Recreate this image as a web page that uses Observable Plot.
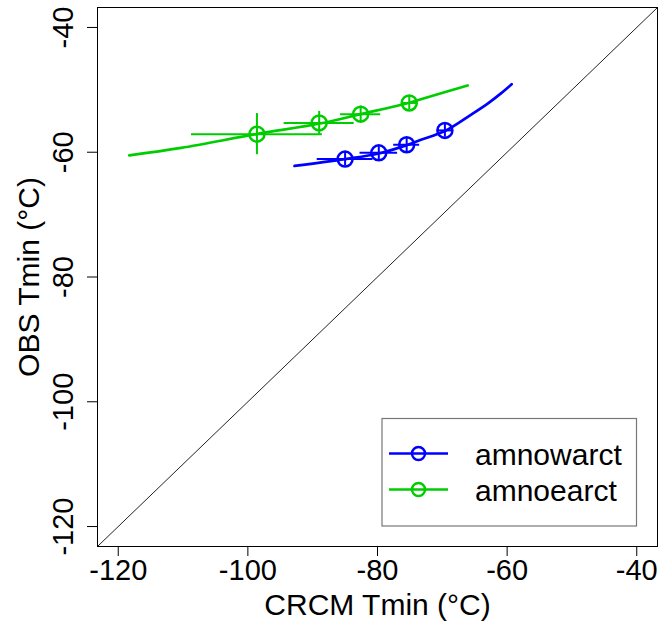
<!DOCTYPE html>
<html>
<head>
<meta charset="utf-8">
<script src="https://cdn.jsdelivr.net/npm/d3@7"></script>
<script src="https://cdn.jsdelivr.net/npm/@observablehq/plot@0.6"></script>
<style>
  html, body { margin: 0; padding: 0; background: white; }
  #wrap { position: relative; width: 658px; height: 624px; }
  #legend { position: absolute; left: 0; top: 0; pointer-events: none; }
  text { font-family: "Liberation Sans", Arial, Helvetica, sans-serif; }
</style>
</head>
<body>
<div id="wrap"></div>
<script>
// ---- axis limits and ticks ----
const axisLimits = [-120, -40];
const xTicks = [-120, -100, -80, -60, -40];
const yTicks = [-120, -100, -80, -60, -40];
const xTitle = "CRCM Tmin (°C)";
const yTitle = "OBS Tmin (°C)";

// ---- series names / colours ----
const seriesNames = ["amnowarct", "amnoearct"];
const seriesColors = ["#0000FF", "#00CD00"];

// ---- amnowarct (blue) fitted curve ----
const blueCurveX = [-92.8, -85.0, -79.8, -75.6, -73.3, -69.6, -65.6, -63.0, -61.0, -59.3];
const blueCurveY = [-62.2, -61.1, -60.2, -58.9, -58.0, -56.6, -54.0, -52.2, -50.6, -49.1];
// ---- amnowarct points and error bars ----
const bluePtX = [-85.0, -79.8, -75.5, -69.6];
const bluePtY = [-61.1, -60.1, -58.8, -56.5];
const blueErrX = [4.3, 2.9, 2.0, 1.2];
const blueErrY = [1.1, 1.1, 1.1, 1.1];

// ---- amnoearct (green) fitted curve ----
const greenCurveX = [-118.3, -110.3, -98.7, -88.9, -82.6, -75.2, -73.3, -66.1];
const greenCurveY = [-60.5, -59.3, -57.1, -55.4, -53.9, -52.1, -51.5, -49.3];
// ---- amnoearct points and error bars ----
const greenPtX = [-98.6, -89.0, -82.6, -75.1];
const greenPtY = [-57.1, -55.3, -53.9, -52.1];
const greenErrX = [10.1, 5.4, 3.1, 1.2];
const greenErrY = [3.3, 1.85, 1.3, 1.1];

// ---- build tables ----
const span = axisLimits[1] - axisLimits[0];
const domain = [axisLimits[0] - 0.04 * span, axisLimits[1] + 0.04 * span]; // R-style 4% expansion
const curve = (xs, ys) => xs.map((x, i) => ({x, y: ys[i]}));
const pts = (xs, ys, ex, ey) => xs.map((x, i) => ({x, y: ys[i], ex: ex[i], ey: ey[i]}));
const blueCurve = curve(blueCurveX, blueCurveY);
const greenCurve = curve(greenCurveX, greenCurveY);
const bluePts = pts(bluePtX, bluePtY, blueErrX, blueErrY);
const greenPts = pts(greenPtX, greenPtY, greenErrX, greenErrY);

function seriesMarks(curveData, ptData, color) {
  return [
    Plot.line(curveData, {x: "x", y: "y", stroke: color, strokeWidth: 2.7, curve: "catmull-rom"}),
    Plot.ruleY(ptData, {y: "y", x1: d => d.x - d.ex, x2: d => d.x + d.ex, stroke: color, strokeWidth: 2}),
    Plot.ruleX(ptData, {x: "x", y1: d => d.y - d.ey, y2: d => d.y + d.ey, stroke: color, strokeWidth: 2}),
    Plot.dot(ptData, {x: "x", y: "y", r: 7.5, stroke: color, strokeWidth: 2.5, fill: "none"})
  ];
}

const chart = Plot.plot({
  width: 658,
  height: 624,
  marginLeft: 97,
  marginRight: 1,
  marginTop: 7,
  marginBottom: 78,
  style: {fontFamily: "'Liberation Sans', Arial, Helvetica, sans-serif", fontSize: "29px", background: "white", color: "black"},
  x: {domain},
  y: {domain},
  marks: [
    Plot.line(domain, {x: d => d, y: d => d, stroke: "#222", strokeWidth: 1}),
    Plot.frame({stroke: "black", strokeWidth: 1}),
    Plot.axisX(xTicks, {tickSize: 10, tickPadding: 3, fontSize: 29, tickFormat: d => String(d), label: null}),
    Plot.axisY(yTicks, {tickSize: 10, tickFormat: () => "", label: null}),
    Plot.text(yTicks, {y: d => d, text: d => String(d), frameAnchor: "left", textAnchor: "middle", dx: -25, rotate: -90, lineAnchor: "bottom", fontSize: 29}),
    Plot.text([xTitle], {text: d => d, frameAnchor: "bottom", textAnchor: "middle", dy: 68, lineAnchor: "bottom", fontSize: 30}),
    Plot.text([yTitle], {text: d => d, frameAnchor: "left", textAnchor: "middle", dx: -59, rotate: -90, lineAnchor: "bottom", fontSize: 30}),
    ...seriesMarks(greenCurve, greenPts, seriesColors[1]),
    ...seriesMarks(blueCurve, bluePts, seriesColors[0])
  ]
});

const wrap = document.getElementById("wrap");
wrap.appendChild(chart);

// ---- legend (overlay) ----
const leg = d3.select(wrap).append("svg")
  .attr("id", "legend").attr("width", 658).attr("height", 624);
leg.append("rect")
  .attr("x", 382).attr("y", 418.5).attr("width", 254.5).attr("height", 107.5)
  .attr("fill", "white").attr("stroke", "#777").attr("stroke-width", 1.2);
seriesNames.forEach((name, i) => {
  const cy = 453.5 + i * 36;
  leg.append("line").attr("x1", 389).attr("x2", 448).attr("y1", cy).attr("y2", cy)
    .attr("stroke", seriesColors[i]).attr("stroke-width", 2.5);
  leg.append("circle").attr("cx", 418.5).attr("cy", cy).attr("r", 6.5)
    .attr("fill", "none").attr("stroke", seriesColors[i]).attr("stroke-width", 2.5);
  leg.append("text").attr("x", 475).attr("y", cy + 11.5)
    .attr("font-size", 30).attr("fill", "black").text(name);
});
</script>
</body>
</html>
